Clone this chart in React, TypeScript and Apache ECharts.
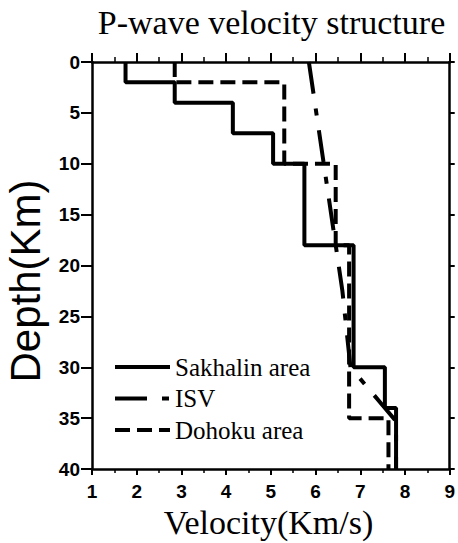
import React, { useEffect, useRef } from "react";
import * as echarts from "echarts";

// Layer velocities (Km/s) and layer boundary depths (Km)
const sakhalinVelocity = [1.75, 2.85, 4.15, 5.05, 5.75, 6.85, 7.55, 7.8];
const sakhalinDepth = [0, 2, 4, 7, 10, 18, 30, 34, 40];

const dohokuVelocity = [2.85, 5.3, 6.45, 6.75, 7.63];
const dohokuDepth = [0, 2, 10, 18, 35, 40];

// ISV is a gradient model: velocity at given depth points
const isvVelocity = [5.85, 6.6, 6.78, 7.55, 7.8, 7.8];
const isvDepth = [0, 22.5, 30, 34, 35.3, 40];

const seriesNames = ["Sakhalin area", "ISV", "Dohoku area"];
const titleText = "P-wave velocity structure";
const xName = "Velocity(Km/s)";
const yName = "Depth(Km)";

function steps(vel: number[], depth: number[]): number[][] {
  const pts: number[][] = [];
  for (let i = 0; i < vel.length; i++) {
    pts.push([vel[i], depth[i]]);
    pts.push([vel[i], depth[i + 1]]);
  }
  return pts;
}

function pairs(vel: number[], depth: number[]): number[][] {
  return vel.map((v, i) => [v, depth[i]]);
}

export default function App() {
  const ref = useRef<HTMLDivElement>(null);
  useEffect(() => {
    if (!ref.current) return;
    const chart = echarts.init(ref.current, undefined, { renderer: "svg" });
    const black = "#000";
    const serif = "'Liberation Serif', 'Times New Roman', serif";
    const tickFont = {
      color: black,
      fontFamily: "Liberation Sans, Arial, sans-serif",
      fontWeight: "bold" as const,
      fontSize: 19,
    };
    const baseX = {
      type: "value" as const,
      min: 1,
      max: 9,
      interval: 1,
      splitLine: { show: false },
      minorSplitLine: { show: false },
    };
    const baseY = {
      type: "value" as const,
      min: 0,
      max: 40,
      interval: 5,
      inverse: true,
      splitLine: { show: false },
      axisLine: { show: true, onZero: false, lineStyle: { color: black, width: 2.5 } },
    };
    chart.setOption({
      animation: false,
      backgroundColor: "#fff",
      grid: { left: 92, right: 7, top: 62, bottom: 74, containLabel: false },
      graphic: [
        {
          type: "text",
          x: 271.5,
          y: 22,
          style: {
            text: titleText,
            fill: black,
            font: "34px " + serif,
            align: "center",
            verticalAlign: "middle",
          },
        },
        {
          type: "text",
          x: 268.5,
          y: 522,
          style: {
            text: xName,
            fill: black,
            font: "34px " + serif,
            align: "center",
            verticalAlign: "middle",
          },
        },
        {
          type: "text",
          x: 25,
          y: 281,
          rotation: Math.PI / 2,
          style: {
            text: yName,
            fill: black,
            font: "42px 'Liberation Sans', Arial, sans-serif",
            align: "center",
            verticalAlign: "middle",
          },
        },
      ],
      legend: {
        orient: "vertical",
        left: 108,
        top: 349,
        itemWidth: 55,
        itemHeight: 12,
        itemGap: 5.5,
        data: seriesNames,
        itemStyle: { opacity: 0, borderWidth: 0 },
        lineStyle: { width: 4 },
        textStyle: {
          color: black,
          fontFamily: "Liberation Serif, Times New Roman, serif",
          fontSize: 25,
          lineHeight: 26,
        },
      },
      xAxis: [
        {
          ...baseX,
          position: "bottom",
          axisLine: { show: true, onZero: false, lineStyle: { color: black, width: 2.5 } },
          axisTick: { show: true, inside: false, length: 6, lineStyle: { color: black, width: 2 } },
          minorTick: { show: true, splitNumber: 2, length: 4, lineStyle: { color: black, width: 1.5 } },
          axisLabel: { ...tickFont, margin: 13 },
        },
        {
          ...baseX,
          position: "top",
          axisLine: { show: true, onZero: false, lineStyle: { color: black, width: 2.5 } },
          axisTick: { show: true, inside: false, length: 9, lineStyle: { color: black, width: 2 } },
          minorTick: { show: true, splitNumber: 2, length: 5, lineStyle: { color: black, width: 1.5 } },
          axisLabel: { show: false },
        },
      ],
      yAxis: [
        {
          ...baseY,
          position: "left",
          axisTick: { show: true, inside: false, length: 11, lineStyle: { color: black, width: 2 } },
          axisLabel: { ...tickFont, margin: 12 },
        },
        {
          ...baseY,
          position: "right",
          axisTick: { show: true, inside: false, length: 5, lineStyle: { color: black, width: 2 } },
          axisLabel: { show: false },
        },
      ],
      series: [
        {
          name: seriesNames[2],
          type: "line",
          xAxisIndex: 0,
          yAxisIndex: 0,
          symbol: "none",
          color: black,
          z: 2,
          data: steps(dohokuVelocity, dohokuDepth),
          lineStyle: { color: black, width: 4, type: [15, 7] },
        },
        {
          name: seriesNames[1],
          type: "line",
          xAxisIndex: 0,
          yAxisIndex: 0,
          symbol: "none",
          color: black,
          z: 3,
          data: pairs(isvVelocity, isvDepth),
          lineStyle: { color: black, width: 4, type: [32, 15, 7, 15] },
        },
        {
          name: seriesNames[0],
          type: "line",
          xAxisIndex: 0,
          yAxisIndex: 0,
          symbol: "none",
          color: black,
          z: 4,
          data: steps(sakhalinVelocity, sakhalinDepth),
          lineStyle: { color: black, width: 4, type: "solid" },
        },
      ],
    });
    return () => chart.dispose();
  }, []);
  return <div ref={ref} style={{ width: 458, height: 543, position: "absolute", left: 0, top: 0 }} />;
}
